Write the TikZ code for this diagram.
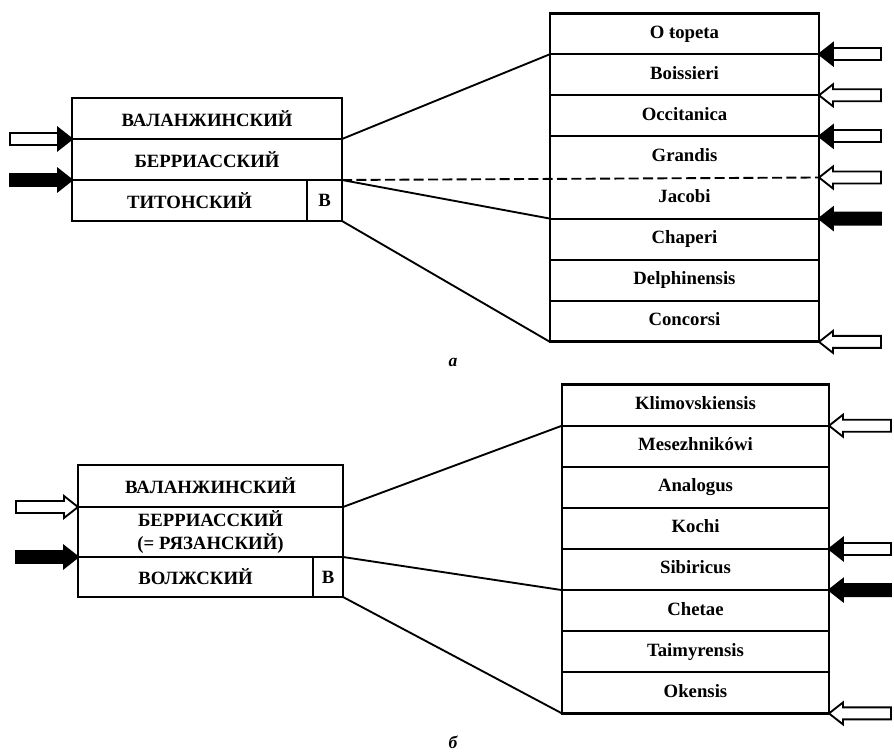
\documentclass[tikz,border=0pt]{standalone}
\usepackage{fontspec}
\setmainfont{Liberation Serif}
\usetikzlibrary{matrix,positioning}
\tikzset{
  stage/.style={draw, line width=1.6pt, inner sep=0pt, outer sep=0pt, minimum width=81mm, minimum height=12.3mm, align=center, font=\fontsize{16}{19}\selectfont\bfseries},
  zone/.style={inner sep=0pt, outer sep=0pt, minimum width=80.7mm, minimum height=12.33mm, text height=11pt, text depth=3.5pt, font=\fontsize{16}{19}\selectfont\bfseries},
  frame/.style={line width=2.4pt},
  rule/.style={line width=1.6pt},
  link/.style={line width=1.6pt},
  shaft/.style={line width=1.6pt, line join=miter},
  open arrow/.pic={\draw[shaft,fill=white] (0,0) -- (-14,-11) -- (-14,-6) -- (-62,-6) -- (-62,6) -- (-14,6) -- (-14,11) -- cycle;},
  half arrow/.pic={\draw[shaft,fill=white] (-14,-6) rectangle (-62,6);
                   \draw[shaft,fill=black] (0,0) -- (-14,-11) -- (-14,11) -- cycle;},
  full arrow/.pic={\draw[shaft,fill=black] (0,0) -- (-14,-11) -- (-14,-6) -- (-62,-6) -- (-62,6) -- (-14,6) -- (-14,11) -- cycle;},
}
\begin{document}
\begin{tikzpicture}[x=0.3mm,y=-0.3mm]
  \useasboundingbox (0,0) rectangle (894,753);
  % upper scheme
  \node[stage] (val) at (207,118.5) {ВАЛАНЖИНСКИЙ};
  \node[stage, below=0pt of val] (ber) {БЕРРИАССКИЙ};
  \node[stage, minimum width=70.5mm, anchor=north west] (tit) at (ber.south west) {ТИТОНСКИЙ};
  \node[stage, minimum width=10.5mm, right=0pt of tit] (titB) {В};
  \draw[frame] (val.north west) rectangle (titB.south east);

  \matrix[matrix of nodes, nodes={zone}, row sep=0pt, inner sep=0pt] (Z) at (684.5,177.5)
  {
    O ŧopeta\\
    Boissieri\\
    Occitanica\\
    Grandis\\
    Jacobi\\
    Chaperi\\
    Delphinensis\\
    Concorsi\\
  };
  \foreach \i in {1,2,3,5,6,7}
    \draw[rule] (Z-\i-1.south west) -- (Z-\i-1.south east);
  \draw[frame] (Z-1-1.north west) rectangle (Z-8-1.south east);

  \draw[link] (val.south east) -- (Z-1-1.south west);
  \draw[link, dash pattern=on 3mm off 1.3mm] (ber.south east) -- (Z-4-1.south east);
  \draw[link] (ber.south east) -- (Z-5-1.south west);
  \draw[link] (titB.south east) -- (Z-8-1.south west);

  \pic at (val.south west) {half arrow};
  \pic at (ber.south west) {full arrow};
  \pic[xscale=-1] at (Z-1-1.south east) {half arrow};
  \pic[xscale=-1] at (Z-2-1.south east) {open arrow};
  \pic[xscale=-1] at (Z-3-1.south east) {half arrow};
  \pic[xscale=-1] at (Z-4-1.south east) {open arrow};
  \pic[xscale=-1] at (Z-5-1.south east) {full arrow};
  \pic[xscale=-1] at (Z-8-1.south east) {open arrow};

  \node[font=\fontsize{15}{18}\selectfont\bfseries\itshape] (capA) at (453,362) {а};

  % lower scheme
  \node[stage, minimum width=79.5mm, minimum height=12.6mm] (val2) at (210.5,486) {ВАЛАНЖИНСКИЙ};
  \node[stage, minimum width=79.5mm, minimum height=15mm, below=0pt of val2] (ber2) {БЕРРИАССКИЙ\\(= РЯЗАНСКИЙ)};
  \node[stage, minimum width=70.5mm, minimum height=12mm, anchor=north west] (vol) at (ber2.south west) {ВОЛЖСКИЙ};
  \node[stage, minimum width=9mm, minimum height=12mm, right=0pt of vol] (volB) {В};
  \draw[frame] (val2.north west) rectangle (volB.south east);

  \matrix[matrix of nodes, nodes={zone, minimum width=80.1mm}, row sep=0pt, inner sep=0pt] (Y) at (695.5,549)
  {
    Klimovskiensis\\
    Mesezhnikówi\\
    Analogus\\
    Kochi\\
    Sibiricus\\
    Chetae\\
    Taimyrensis\\
    Okensis\\
  };
  \foreach \i in {1,...,7}
    \draw[rule] (Y-\i-1.south west) -- (Y-\i-1.south east);
  \draw[frame] (Y-1-1.north west) rectangle (Y-8-1.south east);

  \draw[link] (val2.south east) -- (Y-1-1.south west);
  \draw[link] (ber2.south east) -- (Y-5-1.south west);
  \draw[link] (volB.south east) -- (Y-8-1.south west);

  \pic at (val2.south west) {open arrow};
  \pic at (ber2.south west) {full arrow};
  \pic[xscale=-1] at (Y-1-1.south east) {open arrow};
  \pic[xscale=-1] at (Y-4-1.south east) {half arrow};
  \pic[xscale=-1] at (Y-5-1.south east) {full arrow};
  \pic[xscale=-1] at (Y-8-1.south east) {open arrow};

  \node[font=\fontsize{15}{18}\selectfont\bfseries\itshape] (capB) at (453,742) {б};
\end{tikzpicture}
\end{document}
